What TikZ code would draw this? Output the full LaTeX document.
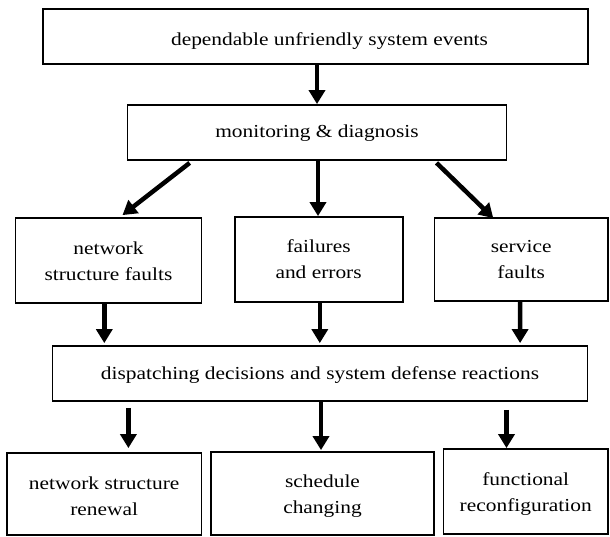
\documentclass[tikz,border=0pt]{standalone}
\usepackage{fontspec}
\setmainfont[FakeStretch=1.17]{Liberation Serif}
\usetikzlibrary{arrows.meta}
\begin{document}
\begin{tikzpicture}[x=1pt,y=-1pt,
  box/.style={draw=black, line width=1.8pt, fill=white, inner sep=0pt,
    align=center, text depth=4pt, font=\fontsize{18.3}{26}\selectfont},
  arr/.style={line width=4.5pt, -{Triangle[width=16pt,length=14pt]}}]
\useasboundingbox (0,0) rectangle (610,536);
% top chain
\node[box, minimum width=545.4, minimum height=55, text height=22.4pt] (e) at (315.5,36.5)
  {\hspace*{28pt}dependable unfriendly system events};
\node[box, minimum width=378.9, minimum height=55, text height=14.4pt] (m) at (317,132.5)
  {monitoring \& diagnosis};
% fault classes
\node[box, minimum width=185.9, minimum height=85, text height=43pt] (f1) at (108.5,260.5)
  {network\\structure faults};
\node[box, minimum width=168, minimum height=85, text height=41pt] (f2) at (318.6,259.5)
  {failures\\and errors};
\node[box, minimum width=173.5, minimum height=83, text height=41pt] (f3) at (521.2,259.5)
  {service\\faults};
% decisions
\node[box, minimum width=534.9, minimum height=55, text height=15pt] (d) at (320,373.5)
  {dispatching decisions and system defense reactions};
% reactions
\node[box, minimum width=194.5, minimum height=82, text height=46pt] (r1) at (104.2,494)
  {network structure\\renewal};
\node[box, minimum width=222.6, minimum height=83, text height=43.6pt] (r2) at (322.5,493.5)
  {schedule\\changing};
\node[box, minimum width=164.5, minimum height=85, text height=44.4pt] (r3) at (525.7,491.5)
  {functional\\reconfiguration};
% connectors
\draw[arr] ([xshift=1.5]e.south) -- (m.north);
\draw[arr] ([shift={(63,2)}]m.south west) -- ([shift={(14,-2)}]f1.north);
\draw[arr] ([xshift=1]m.south) -- ([xshift=-0.6]f2.north);
\draw[arr] ([shift={(-70.8,2)}]m.south east) -- ([shift={(-27.9,1)}]f3.north);
\draw[arr] ([xshift=-4.2]f1.south) -- ([shift={(-215.7,-2)}]d.north);
\draw[arr] ([xshift=1.2]f2.south) -- ([shift={(-0.2,-2)}]d.north);
\draw[arr] ([xshift=-1.1]f3.south) -- ([shift={(200.1,-2)}]d.north);
\draw[arr] ([shift={(-191.6,6)}]d.south) -- ([shift={(24.2,-4)}]r1.north);
\draw[arr] ([xshift=1]d.south) -- ([shift={(-1.5,-1)}]r2.north);
\draw[arr] ([shift={(186.5,8)}]d.south) -- ([shift={(-19.2,0)}]r3.north);
\end{tikzpicture}
\end{document}
